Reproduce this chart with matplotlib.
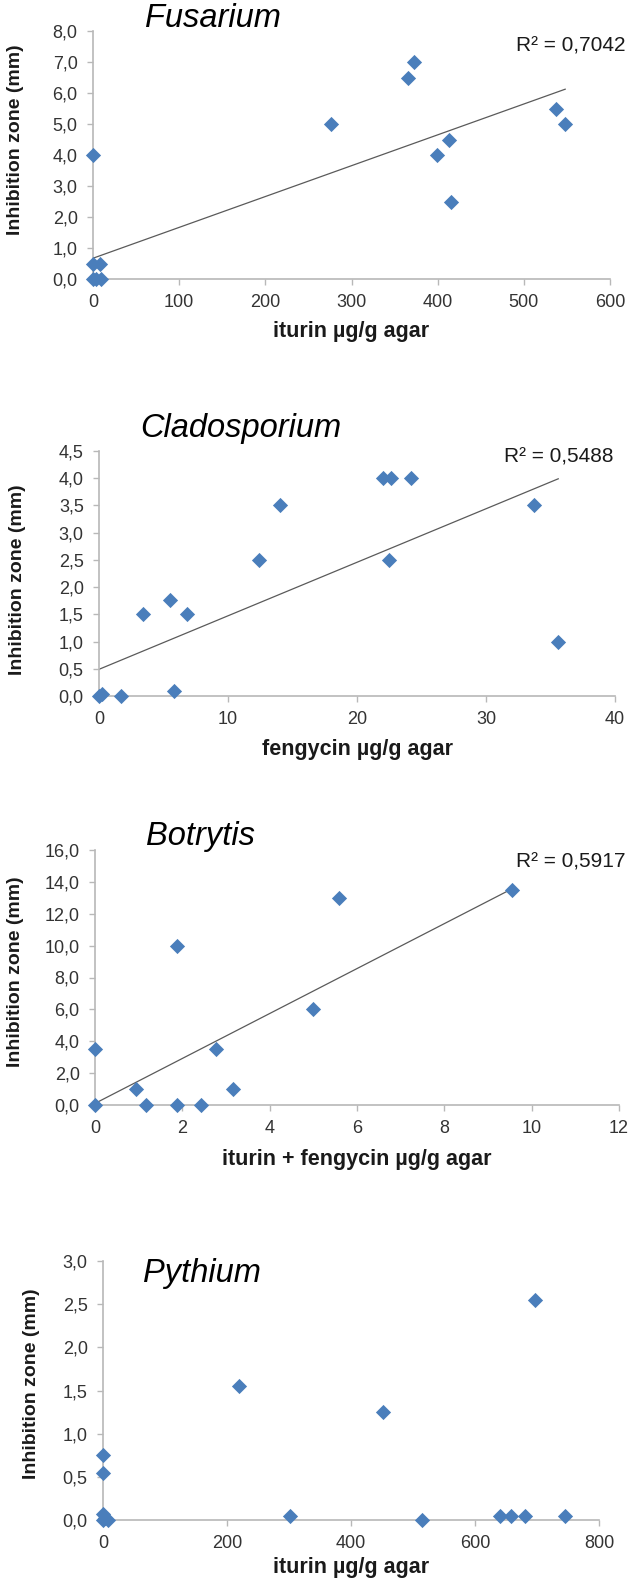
import numpy as np
import matplotlib.pyplot as plt
from matplotlib.ticker import FuncFormatter, MultipleLocator

plt.rcParams['font.family'] = ['Liberation Sans', 'DejaVu Sans']

# Fusarium - iturin
fus_x = [0, 0, 8, 0, 4, 9, 276, 366, 372, 399, 413, 416, 537, 548]
fus_y = [4.0, 0.5, 0.5, 0.0, 0.0, 0.0, 5.0, 6.5, 7.0, 4.0, 4.5, 2.5, 5.5, 5.0]
fus_trend = (0.00995, 0.67)   # slope, intercept
fus_r2 = '0,7042'

# Cladosporium - fengycin
cla_x = [0, 0.2, 1.7, 5.8, 3.4, 5.5, 6.8, 12.4, 14.0, 22.0, 22.65, 24.15, 22.5, 33.7, 35.6]
cla_y = [0.0, 0.04, 0.0, 0.09, 1.5, 1.76, 1.5, 2.5, 3.5, 4.0, 4.0, 4.0, 2.5, 3.5, 1.0]
cla_trend = (0.0983, 0.49)
cla_r2 = '0,5488'

# Botrytis - iturin + fengycin
bot_x = [0, 0, 0.95, 1.16, 1.87, 1.87, 2.43, 2.76, 3.15, 5.0, 5.59, 9.55]
bot_y = [0.0, 3.5, 1.0, 0.0, 10.0, 0.0, 0.0, 3.5, 1.0, 6.0, 13.0, 13.5]
bot_trend = (1.41, 0.1)
bot_r2 = '0,5917'

# Pythium - iturin
pyt_x = [0, 0, 4, 8, 0, 0, 219, 302, 452, 515, 640, 658, 681, 697, 745]
pyt_y = [0.07, 0.0, 0.02, 0.0, 0.75, 0.55, 1.55, 0.05, 1.25, 0.0, 0.05, 0.05, 0.05, 2.55, 0.05]

W, H = 634, 1584
fig = plt.figure(figsize=(W / 100, H / 100), dpi=100)

def fx(x):
    return x / W

def fy(y):
    return 1 - y / H

def add_panel(box, xs, ys, xmax, xstep, ymax, ystep, title, title_xy, xlabel, xlabel_y,
              ylabel_xy, trend=None, r2=None, r2_xy=None):
    l, r, t, b = box
    ax = fig.add_axes([fx(l), fy(b), (r - l) / W, (b - t) / H])
    ax.scatter(xs, ys, marker='D', s=60, color='#4A7EBB', zorder=3, clip_on=False, linewidths=0)
    if trend is not None:
        xx = np.array([min(xs), max(xs)])
        ax.plot(xx, trend[0] * xx + trend[1], color='#5a5a5a', lw=0.9, zorder=2)
    ax.set_xlim(0, xmax)
    ax.set_ylim(0, ymax)
    ax.xaxis.set_major_locator(MultipleLocator(xstep))
    ax.yaxis.set_major_locator(MultipleLocator(ystep))
    ax.yaxis.set_major_formatter(FuncFormatter(lambda v, p: f'{v:.1f}'.replace('.', ',')))
    ax.xaxis.set_major_formatter(FuncFormatter(lambda v, p: f'{v:g}'))
    for s in ['top', 'right']:
        ax.spines[s].set_visible(False)
    for s in ['left', 'bottom']:
        ax.spines[s].set_color('#b8b8b8')
        ax.spines[s].set_linewidth(1.2)
    ax.tick_params(direction='out', length=4, width=1, color='#b8b8b8',
                   labelsize=13, labelcolor='#333333', pad=7)
    ax.patch.set_alpha(0)
    fig.text(fx(title_xy[0]), fy(title_xy[1]), title, style='italic', fontsize=23.5,
             ha='left', va='baseline')
    fig.text(fx((l + r) / 2), fy(xlabel_y), xlabel, fontsize=15.5, fontweight='bold',
             ha='center', va='baseline', color='#1a1a1a')
    fig.text(fx(ylabel_xy[0]), fy(ylabel_xy[1]), 'Inhibition zone (mm)', fontsize=14,
             fontweight='bold', rotation=90, ha='center', va='center', color='#1a1a1a')
    if r2 is not None:
        fig.text(fx(r2_xy[0]), fy(r2_xy[1]), 'R² = ' + r2, fontsize=15,
                 ha='right', va='baseline', color='#1a1a1a')
    return ax

add_panel((93, 610, 31, 279), fus_x, fus_y, 600, 100, 8, 1, 'Fusarium', (145, 27),
          'iturin µg/g agar', 337, (16, 140), fus_trend, fus_r2, (625, 52))
add_panel((99, 615, 451, 696), cla_x, cla_y, 40, 10, 4.5, 0.5, 'Cladosporium', (140, 437),
          'fengycin µg/g agar', 755, (18, 580), cla_trend, cla_r2, (613, 462))
add_panel((95, 619, 850, 1105), bot_x, bot_y, 12, 2, 16, 2, 'Botrytis', (146, 845),
          'iturin + fengycin µg/g agar', 1165, (16, 972), bot_trend, bot_r2, (625, 867))
add_panel((103, 599, 1261, 1520), pyt_x, pyt_y, 800, 200, 3, 0.5, 'Pythium', (143, 1282),
          'iturin µg/g agar', 1573, (32, 1384))

fig.savefig('out.png', dpi=100)
